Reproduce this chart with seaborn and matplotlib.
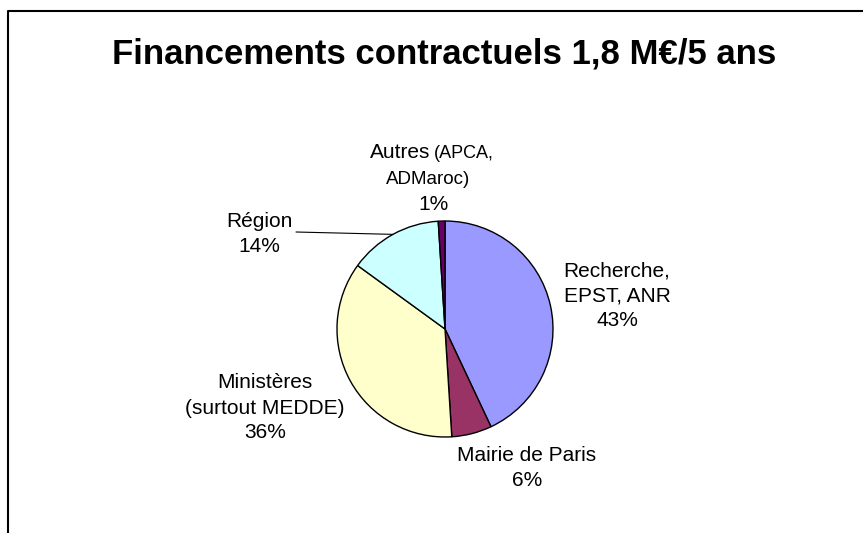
import numpy as np
import matplotlib.pyplot as plt
import seaborn as sns

# data, clockwise from 12 o'clock
categories = ["Recherche,\nEPST, ANR", "Mairie de Paris",
              "Ministères\n(surtout MEDDE)", "Région", "Autres"]
shares = [43, 6, 36, 14, 1]
colors = ["#9999FF", "#993366", "#FFFFCC", "#CCFFFF", "#660066"]
title = "Financements contractuels 1,8 M€/5 ans"

sns.set_theme(style="white")
plt.rcParams['font.family'] = ['Liberation Sans', 'DejaVu Sans']
plt.rcParams['text.color'] = 'black'

W, H = 863, 533
fig = plt.figure(figsize=(W / 100, H / 100), dpi=100)
ax = fig.add_axes([0, 0, 1, 1])

def Y(y):
    # image row -> data y
    return H - y

cx, cy, r = 445, Y(329), 108
wedges, _ = ax.pie(shares, colors=colors, startangle=90, counterclock=False,
                   center=(cx, cy), radius=r,
                   wedgeprops=dict(edgecolor='black', linewidth=1))
ax.set_xlim(0, W)
ax.set_ylim(0, H)
ax.set_aspect('equal')
ax.axis('off')

# frame (left + top only visible)
ax.plot([8, 8, W], [0, Y(11), Y(11)], color='black', lw=1.5, clip_on=False)

ax.text(444, Y(54), title, ha='center', va='center', fontsize=25, fontweight='bold')

fs = 15
pct = [f"{v}%" for v in shares]
label_pos = [(617, 296), (527, 468), (265, 408), (259, 234)]
for name, p, (x, y) in zip(categories[:4], pct[:4], label_pos):
    ax.text(x, Y(y), f"{name}\n{p}", ha='center', va='center',
            fontsize=fs, linespacing=1.4)

# Autres: mixed sizes
ax.text(430, Y(153), categories[4], ha='right', va='center', fontsize=fs)
ax.text(434, Y(154), "(APCA,", ha='left', va='center', fontsize=13)
ax.text(428, Y(180), "ADMaroc)", ha='center', va='center', fontsize=13.5)
ax.text(433, Y(205), pct[4], ha='center', va='center', fontsize=fs)

# leader line for Région
w = wedges[3]
mid = np.deg2rad((w.theta1 + w.theta2) / 2)
ax.plot([296, cx + r * np.cos(mid)], [Y(232), cy + r * np.sin(mid)],
        color='black', lw=0.8)

fig.savefig("out.png", dpi=100, facecolor='white')
